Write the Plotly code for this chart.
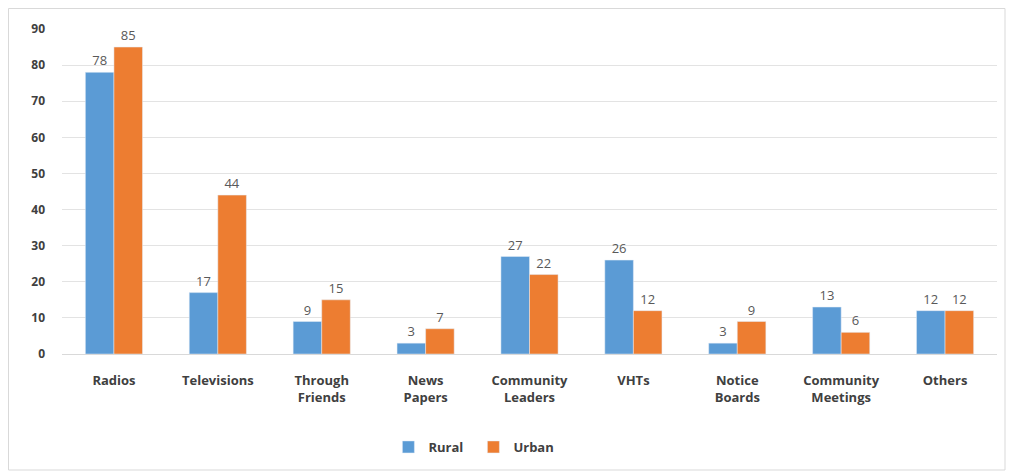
import plotly.graph_objects as go

categories = ["Radios", "Televisions", "Through<br>Friends", "News<br>Papers", "Community<br>Leaders",
              "VHTs", "Notice<br>Boards", "Community<br>Meetings", "Others"]
rural = [78, 17, 9, 3, 27, 26, 3, 13, 12]
urban = [85, 44, 15, 7, 22, 12, 9, 6, 12]
y_ticks = [0, 10, 20, 30, 40, 50, 60, 70, 80, 90]

fig = go.Figure()
fig.add_trace(go.Bar(name="Rural", x=categories, y=rural, marker_color="#5B9BD5",
                     text=rural, textposition="outside", cliponaxis=False,
                     textfont=dict(size=13, color="#595959")))
fig.add_trace(go.Bar(name="Urban", x=categories, y=urban, marker_color="#ED7D31",
                     text=urban, textposition="outside", cliponaxis=False,
                     textfont=dict(size=13, color="#595959")))

# page has ~8px body offset; figure sized to fit the window
W, H = 1009, 466
ml, mr, mt, mb = 54, 20, 21, 120
pw, ph = W - ml - mr, H - mt - mb

fig.update_layout(
    width=W, height=H,
    margin=dict(l=ml, r=mr, t=mt, b=mb, autoexpand=False),
    barmode="group", bargap=0.45, bargroupgap=0,
    plot_bgcolor="white", paper_bgcolor="white",
    font=dict(family="Open Sans, Liberation Sans, sans-serif", color="#404040"),
    showlegend=True,
    legend=dict(orientation="h", x=0.44, xanchor="center", y=(H - mb - 439) / ph, yanchor="middle",
                font=dict(size=13, color="#404040", family="Open Sans, sans-serif", weight="bold"),
                itemwidth=30, entrywidth=40, traceorder="normal"),
    xaxis=dict(tickfont=dict(size=13, color="#404040", family="Open Sans, sans-serif", weight="bold"),
               showline=True, linecolor="#d9d9d9", ticks="", tickangle=0, automargin=False,
               ticklabelstandoff=14),
    yaxis=dict(range=[0, 90], tickvals=y_ticks, showgrid=True, gridcolor="#e3e3e3",
               zeroline=False, ticks="", ticklen=0, automargin=False, ticklabelstandoff=16,
               tickfont=dict(size=12, color="#404040", family="Open Sans, sans-serif", weight="bold")),
    shapes=[dict(type="rect", xref="paper", yref="paper",
                 x0=(0.5 - ml) / pw, x1=(997 - ml) / pw,
                 y0=(H - mb - 462) / ph, y1=(H - mb - 0.5) / ph,
                 line=dict(color="#d9d9d9", width=1), fillcolor="rgba(0,0,0,0)", layer="below")],
)

fig.write_html("out.html")
